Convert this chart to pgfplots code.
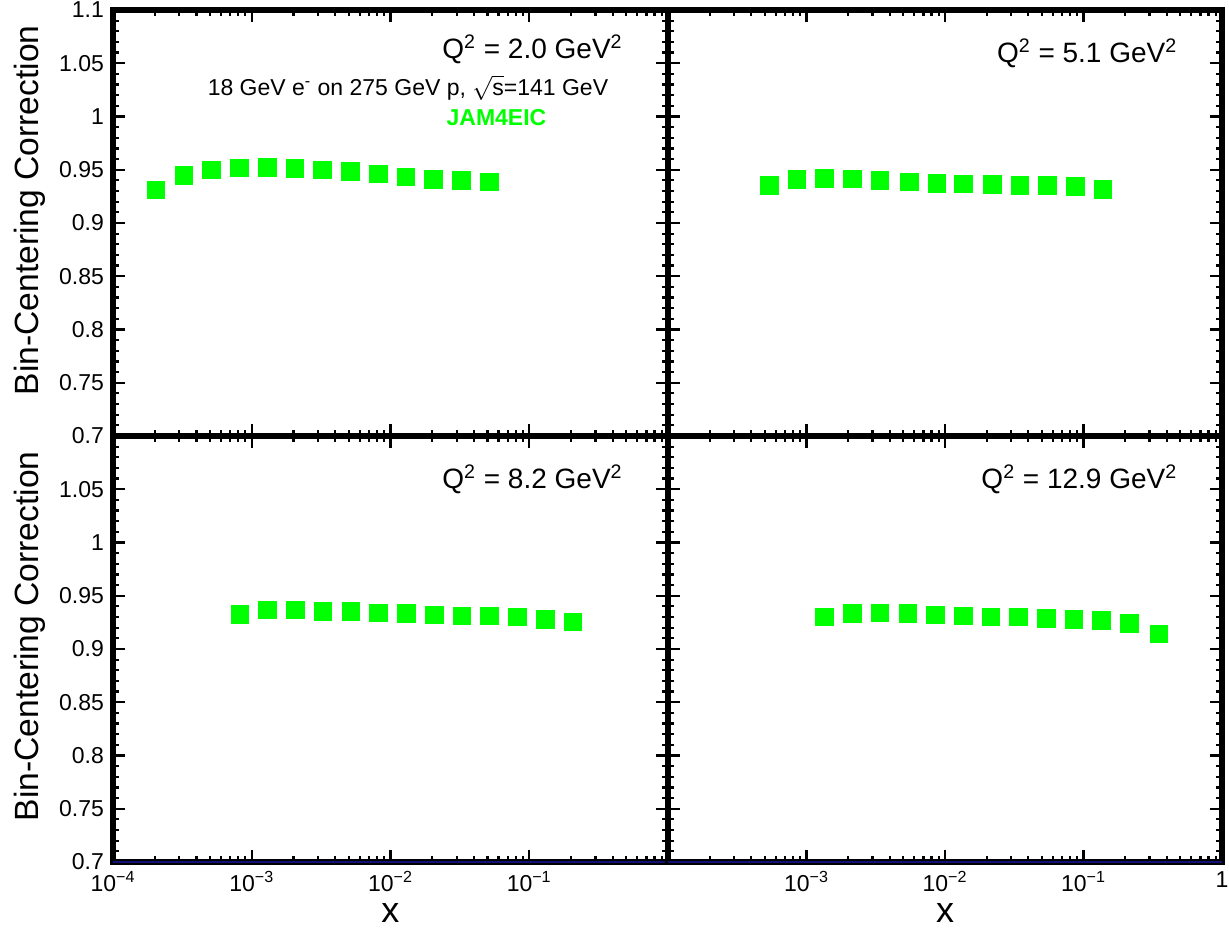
\documentclass[border=0pt]{standalone}
\usepackage{pgfplots}
\pgfplotsset{compat=1.18}
\usepackage{pgfplotstable}
\usepackage{fontspec}
\setmainfont{Liberation Sans}
\definecolor{rgreen}{RGB}{0,255,0}
\definecolor{rnavy}{RGB}{16,16,120}

\pgfplotstableread{
x y
2.04e-4 0.9310
3.24e-4 0.9450
5.13e-4 0.9500
8.13e-4 0.9519
1.29e-3 0.9525
2.04e-3 0.9512
3.24e-3 0.9500
5.13e-3 0.9484
8.13e-3 0.9460
1.29e-2 0.9434
2.04e-2 0.9409
3.24e-2 0.9400
5.13e-2 0.9387
}\tabA
\pgfplotstableread{
x y
5.37e-4 0.9356
8.51e-4 0.9409
1.35e-3 0.9422
2.14e-3 0.9416
3.39e-3 0.9403
5.50e-3 0.9387
8.71e-3 0.9375
1.35e-2 0.9369
2.19e-2 0.9366
3.47e-2 0.9353
5.50e-2 0.9353
8.71e-2 0.9343
1.38e-1 0.9319
}\tabB
\pgfplotstableread{
x y
8.18e-4 0.9325
1.30e-3 0.9369
2.06e-3 0.9369
3.26e-3 0.9356
5.17e-3 0.9353
8.20e-3 0.9341
1.30e-2 0.9334
2.06e-2 0.9322
3.26e-2 0.9312
5.17e-2 0.9312
8.20e-2 0.9303
1.30e-1 0.9278
2.06e-1 0.9256
}\tabC
\pgfplotstableread{
x y
1.35e-3 0.9303
2.14e-3 0.9334
3.39e-3 0.9341
5.37e-3 0.9334
8.51e-3 0.9322
1.35e-2 0.9312
2.14e-2 0.9303
3.39e-2 0.9303
5.37e-2 0.9291
8.51e-2 0.9278
1.35e-1 0.9268
2.14e-1 0.9244
3.50e-1 0.9144
}\tabD

\pgfplotsset{
  every axis/.append style={
    scale only axis, height=213pt,
    xmin=1e-4, xmax=1, ymin=0.7, ymax=1.1,
    xtick={1e-4,1e-3,1e-2,1e-1,1},
    ytick={0.7,0.75,0.8,0.85,0.9,0.95,1,1.05,1.1},
    minor y tick num=4,
    tick align=inside, xtick pos=both, ytick pos=both,
    major tick length=6pt, minor tick length=3pt,
    tick style={black, line width=1.1pt},
    axis line style={line width=3pt},
    tick label style={font=\fontsize{11.5}{13}\selectfont},
    yticklabel style={xshift=-1pt},
    xticklabel style={inner sep=0pt, yshift=-4.5pt},
    clip=false,
    anchor=south west,
  },
}

\begin{document}
\begin{tikzpicture}
\path[use as bounding box] (0pt,0pt) rectangle (614.5pt,464.5pt);

% top left
\begin{axis}[xmode=log, at={(56.5pt,246.5pt)}, width=277.5pt,
  xticklabels={},
  yticklabels={0.7,0.75,0.8,0.85,0.9,0.95,1,1.05,1.1},
  ylabel={Bin-Centering Correction},
  ylabel style={at={([xshift=-41.5pt]axis description cs:0,0.53)}, anchor=center, inner sep=0pt,
      font=\fontsize{16.8}{18}\selectfont}]
\addplot[only marks, mark=square*, mark size=4.4pt, color=rgreen, mark options={line width=0.3pt}] table[x=x,y=y] {\tabA};
\node[anchor=base east, inner sep=0pt, font=\fontsize{14}{16}\selectfont] at (rel axis cs:0.919,0.886) {Q\textsuperscript{2} = 2.0 GeV\textsuperscript{2}};
\node[anchor=base, inner sep=0pt, font=\fontsize{11.5}{13}\selectfont] at (rel axis cs:0.5315,0.800) {18 GeV e\textsuperscript{-} on 275 GeV p, $\sqrt{\hbox{s}}$=141 GeV};
\node[anchor=base, inner sep=0pt, font=\fontsize{11.5}{13}\selectfont\bfseries, text=rgreen] at (rel axis cs:0.691,0.7277) {JAM4EIC};
\end{axis}

% top right
\begin{axis}[xmode=log, at={(334pt,246.5pt)}, width=277pt,
  xticklabels={}, yticklabels={}]
\addplot[only marks, mark=square*, mark size=4.4pt, color=rgreen, mark options={line width=0.3pt}] table[x=x,y=y] {\tabB};
\node[anchor=base east, inner sep=0pt, font=\fontsize{14}{16}\selectfont] at (rel axis cs:0.92,0.8756) {Q\textsuperscript{2} = 5.1 GeV\textsuperscript{2}};
\end{axis}

% bottom left
\begin{axis}[xmode=log, at={(56.5pt,33.5pt)}, width=277.5pt,
  yticklabels={0.7,0.75,0.8,0.85,0.9,0.95,1,1.05,{}},
  xticklabels={10\textsuperscript{−4},10\textsuperscript{−3},10\textsuperscript{−2},10\textsuperscript{−1},{}},
  ylabel={Bin-Centering Correction},
  ylabel style={at={([xshift=-41.5pt]axis description cs:0,0.53)}, anchor=center, inner sep=0pt,
      font=\fontsize{16.8}{18}\selectfont},
  xlabel={x},
  xlabel style={at={([yshift=-25.5pt]axis description cs:0.5,0)}, anchor=center, inner sep=0pt,
      font=\fontsize{18}{20}\selectfont}]
\addplot[rnavy, line width=1.4pt] coordinates {(1e-4,0.7) (1,0.7)};
\addplot[only marks, mark=square*, mark size=4.4pt, color=rgreen, mark options={line width=0.3pt}] table[x=x,y=y] {\tabC};
\node[anchor=base east, inner sep=0pt, font=\fontsize{14}{16}\selectfont] at (rel axis cs:0.919,0.8756) {Q\textsuperscript{2} = 8.2 GeV\textsuperscript{2}};
\end{axis}

% bottom right
\begin{axis}[xmode=log, at={(334pt,33.5pt)}, width=277pt,
  yticklabels={},
  xticklabels={{},10\textsuperscript{−3},10\textsuperscript{−2},10\textsuperscript{−1},1},
  xlabel={x},
  xlabel style={at={([yshift=-25.5pt]axis description cs:0.5,0)}, anchor=center, inner sep=0pt,
      font=\fontsize{18}{20}\selectfont}]
\addplot[rnavy, line width=1.4pt] coordinates {(1e-4,0.7) (1,0.7)};
\addplot[only marks, mark=square*, mark size=4.4pt, color=rgreen, mark options={line width=0.3pt}] table[x=x,y=y] {\tabD};
\node[anchor=base east, inner sep=0pt, font=\fontsize{14}{16}\selectfont] at (rel axis cs:0.92,0.8756) {Q\textsuperscript{2} = 12.9 GeV\textsuperscript{2}};
\end{axis}
\end{tikzpicture}
\end{document}
